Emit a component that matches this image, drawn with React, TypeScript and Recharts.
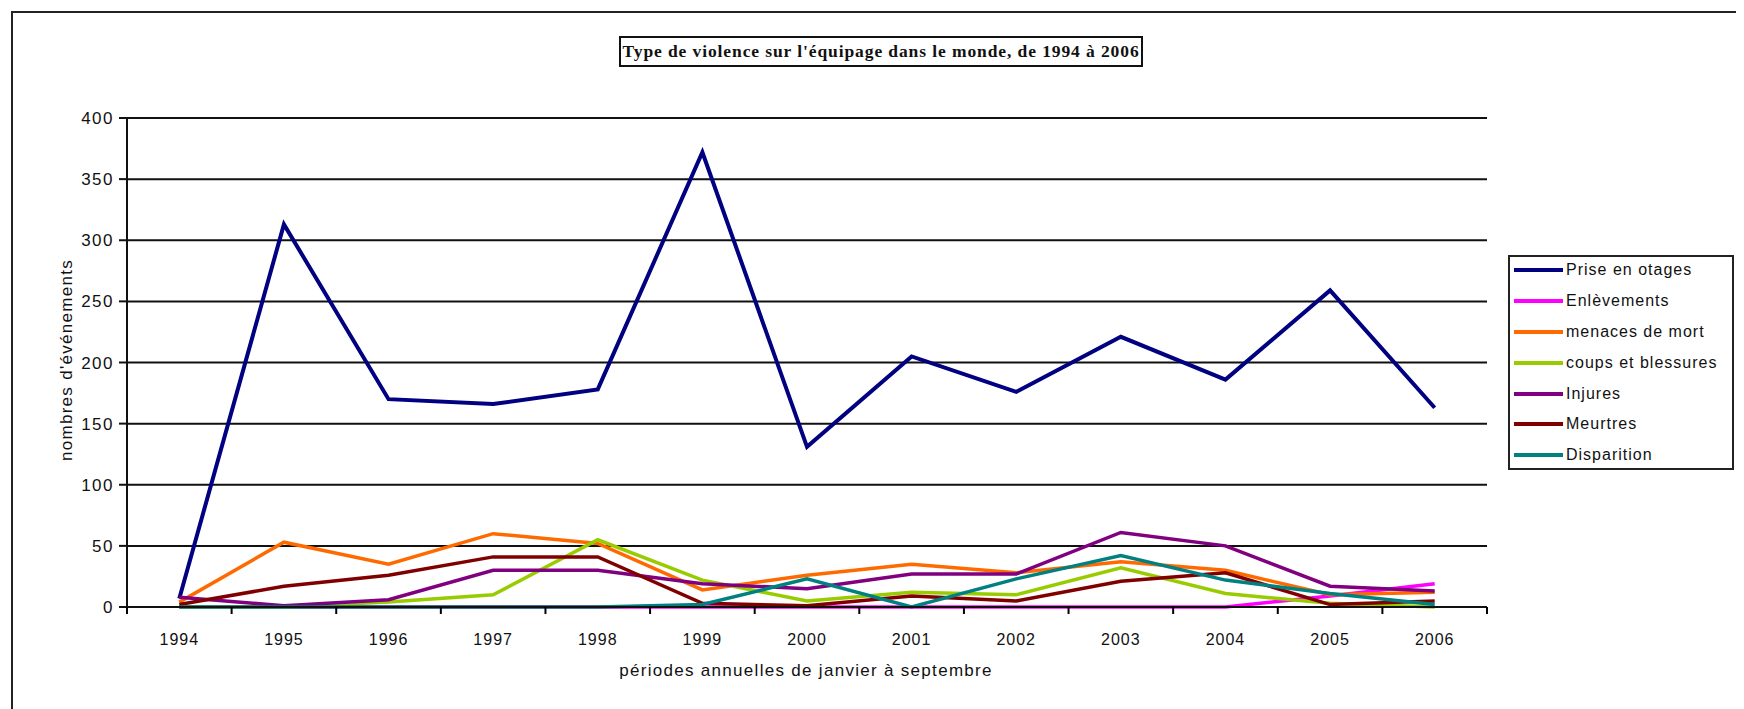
import { LineChart, Line, XAxis, YAxis, CartesianGrid } from 'recharts'

const years = ['1994', '1995', '1996', '1997', '1998', '1999', '2000', '2001', '2002', '2003', '2004', '2005', '2006']

const priseEnOtages = [7, 313, 170, 166, 178, 372, 131, 205, 176, 221, 186, 259, 163]
const enlevements = [0, 0, 0, 0, 0, 0, 0, 0, 0, 0, 0, 9, 19]
const menacesDeMort = [4, 53, 35, 60, 52, 14, 26, 35, 28, 37, 30, 10, 12]
const coupsEtBlessures = [0, 0, 4, 10, 55, 22, 5, 12, 10, 32, 11, 3, 0]
const injures = [8, 1, 6, 30, 30, 19, 15, 27, 27, 61, 50, 17, 13]
const meurtres = [2, 17, 26, 41, 41, 3, 1, 9, 5, 21, 28, 2, 5]
const disparition = [0, 0, 0, 0, 0, 2, 23, 0, 23, 42, 22, 11, 2]

const yTicks = [0, 50, 100, 150, 200, 250, 300, 350, 400]

const series = [
  { key: 'prise', name: 'Prise en otages', color: '#000080', values: priseEnOtages },
  { key: 'enlev', name: 'Enlèvements', color: '#ff00ff', values: enlevements },
  { key: 'menaces', name: 'menaces de mort', color: '#ff6a00', values: menacesDeMort },
  { key: 'coups', name: 'coups et blessures', color: '#99cc00', values: coupsEtBlessures },
  { key: 'injures', name: 'Injures', color: '#800080', values: injures },
  { key: 'meurtres', name: 'Meurtres', color: '#800000', values: meurtres },
  { key: 'disp', name: 'Disparition', color: '#008080', values: disparition },
]

const data = years.map((year, i) => {
  const row: Record<string, string | number> = { year }
  series.forEach((s) => {
    row[s.key] = s.values[i]
  })
  return row
})

const W = 1736
const H = 701
const margin = { top: 110, right: 257, bottom: 62, left: 59 }
const plotWidth = W - margin.left - margin.right - 60
const step = plotWidth / years.length

const font = '"Liberation Sans", Arial, sans-serif'

// excel-style ticks: marks between the categories
function XTick(props: any) {
  const { x, y, payload, index } = props
  const last = index === years.length - 1
  return (
    <g>
      <line x1={x - step / 2} x2={x - step / 2} y1={y} y2={y + 7} stroke="#000" strokeWidth={2} />
      {last && <line x1={x + step / 2} x2={x + step / 2} y1={y} y2={y + 7} stroke="#000" strokeWidth={2} />}
      <text x={x} y={y + 38} textAnchor="middle" fontSize={16} letterSpacing={1} fill="#111" fontFamily={font}>
        {payload.value}
      </text>
    </g>
  )
}

function LegendBox() {
  return (
    <div
      style={{
        position: 'absolute',
        left: 1500,
        top: 247,
        width: 226,
        height: 215,
        boxSizing: 'border-box',
        border: '2px solid #222',
        background: '#fff',
        padding: '1px 0 0 4px',
        fontFamily: font,
        fontSize: 16,
        letterSpacing: 1,
        color: '#111',
      }}
    >
      {series.map((s) => (
        <div key={s.key} style={{ display: 'flex', alignItems: 'center', height: 24, marginBottom: 6.9 }}>
          <div style={{ width: 49, height: 4, background: s.color, marginRight: 3 }} />
          <span>{s.name}</span>
        </div>
      ))}
    </div>
  )
}

export default function App() {
  return (
    <div style={{ position: 'relative', width: W, height: H, overflow: 'hidden', background: '#fff' }}>
      <div
        style={{
          position: 'absolute',
          left: 3,
          top: 3,
          width: 1800,
          height: 800,
          border: '2px solid #222',
        }}
      />
      <div
        style={{
          position: 'absolute',
          left: 611,
          top: 28,
          width: 520,
          height: 27,
          border: '2px solid #111',
          fontFamily: '"Liberation Serif", "Times New Roman", serif',
          fontWeight: 'bold',
          fontSize: 17.5,
          letterSpacing: 0.9,
          lineHeight: '27px',
          textAlign: 'center',
          whiteSpace: 'nowrap',
          color: '#111',
        }}
      >
        Type de violence sur l'équipage dans le monde, de 1994 à 2006
      </div>
      <div
        style={{
          position: 'absolute',
          left: 59,
          top: 352,
          transform: 'translate(-50%, -50%) rotate(-90deg)',
          fontFamily: font,
          fontSize: 17,
          letterSpacing: 1.3,
          whiteSpace: 'nowrap',
          color: '#111',
        }}
      >
        nombres d'événements
      </div>
      <div
        style={{
          position: 'absolute',
          left: 798,
          top: 663,
          transform: 'translate(-50%, -50%)',
          fontFamily: font,
          fontSize: 17,
          letterSpacing: 1.3,
          whiteSpace: 'nowrap',
          color: '#111',
        }}
      >
        périodes annuelles de janvier à septembre
      </div>
      <LineChart width={W} height={H} data={data} margin={margin} style={{ position: 'absolute', left: 0, top: 0 }}>
        <CartesianGrid vertical={false} stroke="#111" strokeWidth={2} />
        <XAxis
          dataKey="year"
          padding={{ left: step / 2, right: step / 2 }}
          tickLine={false}
          tickSize={0}
          tickMargin={0}
          height={40}
          stroke="#111"
          strokeWidth={2}
          interval={0}
          tick={<XTick />}
        />
        <YAxis
          domain={[0, 400]}
          ticks={yTicks}
          width={60}
          stroke="#111"
          strokeWidth={2}
          tickSize={8}
          tickMargin={5}
          tick={{ fill: '#111', fontSize: 17, fontFamily: font, letterSpacing: 1.5 }}
        />
        <YAxis yAxisId="right" orientation="right" width={0} tick={false} stroke="#111" strokeWidth={2} domain={[0, 400]} />
        {series.map((s) => (
          <Line
            key={s.key}
            dataKey={s.key}
            name={s.name}
            stroke={s.color}
            strokeWidth={s.key === 'prise' ? 4 : 3.5}
            dot={false}
            type="linear"
            isAnimationActive={false}
          />
        ))}
      </LineChart>
      <LegendBox />
    </div>
  )
}
